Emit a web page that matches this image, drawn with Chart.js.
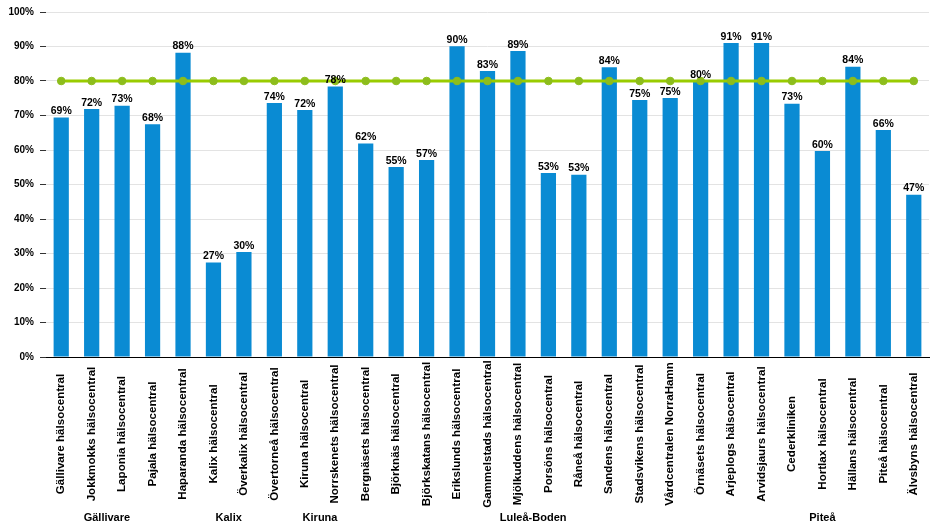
<!DOCTYPE html>
<html>
<head>
<meta charset="utf-8">
<script src="https://cdn.jsdelivr.net/npm/chart.js@4"></script>
<style>
html,body{margin:0;padding:0;background:#fff;}
#wrap{width:934px;height:530px;position:relative;}
</style>
</head>
<body>
<div id="wrap"><canvas id="c" width="934" height="530"></canvas></div>
<script>
const categories = [
  "Gällivare hälsocentral","Jokkmokks hälsocentral","Laponia hälsocentral","Pajala hälsocentral",
  "Haparanda hälsocentral","Kalix hälsocentral","Överkalix hälsocentral","Övertorneå hälsocentral",
  "Kiruna hälsocentral","Norrskenets hälsocentral",
  "Bergnäsets hälsocentral","Björknäs hälsocentral","Björkskatans hälsocentral","Erikslunds hälsocentral",
  "Gammelstads hälsocentral","Mjölkuddens hälsocentral","Porsöns hälsocentral","Råneå hälsocentral",
  "Sandens hälsocentral","Stadsvikens hälsocentral","Vårdcentralen NorraHamn","Örnäsets hälsocentral",
  "Arjeplogs hälsocentral","Arvidsjaurs hälsocentral","Cederkliniken","Hortlax hälsocentral",
  "Hällans hälsocentral","Piteå hälsocentral","Älvsbyns hälsocentral"
];
const values = [
  69.4, 71.9, 72.8, 67.5,
  88.2, 27.4, 30.4, 73.6,
  71.6, 78.4,
  61.9, 55.1, 57.1, 90.1,
  82.9, 88.7, 53.3, 52.8,
  84.0, 74.5, 75.1, 80.0,
  91.0, 91.0, 73.4, 59.7,
  84.1, 65.8, 47.0
];
const valueLabels = [
  "69%","72%","73%","68%",
  "88%","27%","30%","74%",
  "72%","78%",
  "62%","55%","57%","90%",
  "83%","89%","53%","53%",
  "84%","75%","75%","80%",
  "91%","91%","73%","60%",
  "84%","66%","47%"
];
const target = categories.map(() => 80);
const groupNames = ["Gällivare","Kalix","Kiruna","Luleå-Boden","Piteå"];
const groupStart = [0, 4, 8, 10, 22];
const groupEnd   = [3, 7, 9, 21, 28];
const yTicks = [0,10,20,30,40,50,60,70,80,90,100];

const FONT = "'Liberation Sans', Arial, sans-serif";

const barLabelPlugin = {
  id: 'barLabels',
  afterDatasetsDraw(chart) {
    const ctx = chart.ctx;
    const meta = chart.getDatasetMeta(0);
    ctx.save();
    ctx.font = "bold 10.5px " + FONT;
    ctx.fillStyle = "#000";
    ctx.textAlign = "center";
    ctx.textBaseline = "bottom";
    meta.data.forEach((bar, i) => {
      ctx.fillText(valueLabels[i], bar.x, bar.y - 1);
    });
    ctx.restore();
  }
};

const axisLabelPlugin = {
  id: 'axisLabels',
  afterDraw(chart) {
    const ctx = chart.ctx;
    const xs = chart.scales.x;
    ctx.save();
    ctx.fillStyle = "#000";
    // category labels, rotated and centred vertically
    ctx.font = "bold 11.6px " + FONT;
    ctx.textAlign = "center";
    ctx.textBaseline = "middle";
    categories.forEach((c, i) => {
      const x = xs.getPixelForValue(i);
      ctx.save();
      ctx.translate(x, 434);
      ctx.rotate(-Math.PI / 2);
      ctx.fillText(c, 0, 0);
      ctx.restore();
    });
    // group labels
    ctx.font = "bold 11px " + FONT;
    groupNames.forEach((g, i) => {
      const cx = (xs.getPixelForValue(groupStart[i]) + xs.getPixelForValue(groupEnd[i])) / 2;
      ctx.fillText(g, cx, 518);
    });
    ctx.restore();
  }
};

new Chart(document.getElementById('c'), {
  data: {
    labels: categories,
    datasets: [
      {
        type: 'bar',
        data: values,
        backgroundColor: '#0a8bd3',
        barPercentage: 0.5,
        categoryPercentage: 1.0,
        order: 2
      },
      {
        type: 'line',
        data: target,
        borderColor: '#99cc00',
        borderWidth: 2.8,
        pointRadius: 3.8,
        pointBackgroundColor: '#8dbd1c',
        pointBorderColor: '#8dbd1c',
        pointBorderWidth: 1,
        order: 1
      }
    ]
  },
  plugins: [barLabelPlugin, axisLabelPlugin],
  options: {
    responsive: false,
    animation: false,
    devicePixelRatio: 1,
    layout: { padding: { top: 5, right: 4, left: 0, bottom: 0 } },
    plugins: { legend: { display: false }, tooltip: { enabled: false } },
    scales: {
      x: {
        grid: { display: false },
        border: { display: true, color: '#000', width: 1 },
        ticks: { display: false, autoSkip: false },
        afterFit(scale) { scale.height = 173; }
      },
      y: {
        min: 0,
        max: 100,
        afterBuildTicks(scale) { scale.ticks = yTicks.map(v => ({ value: v })); },
        grid: { color: '#e3e3e3', lineWidth: 1, tickLength: 6, tickColor: '#333', drawTicks: true },
        border: { display: false },
        ticks: {
          padding: 6,
          color: '#000',
          font: { family: FONT, size: 10, weight: 'bold' },
          callback: v => v + '%'
        },
        afterFit(scale) { scale.width = 46; }
      }
    }
  }
});
</script>
</body>
</html>
